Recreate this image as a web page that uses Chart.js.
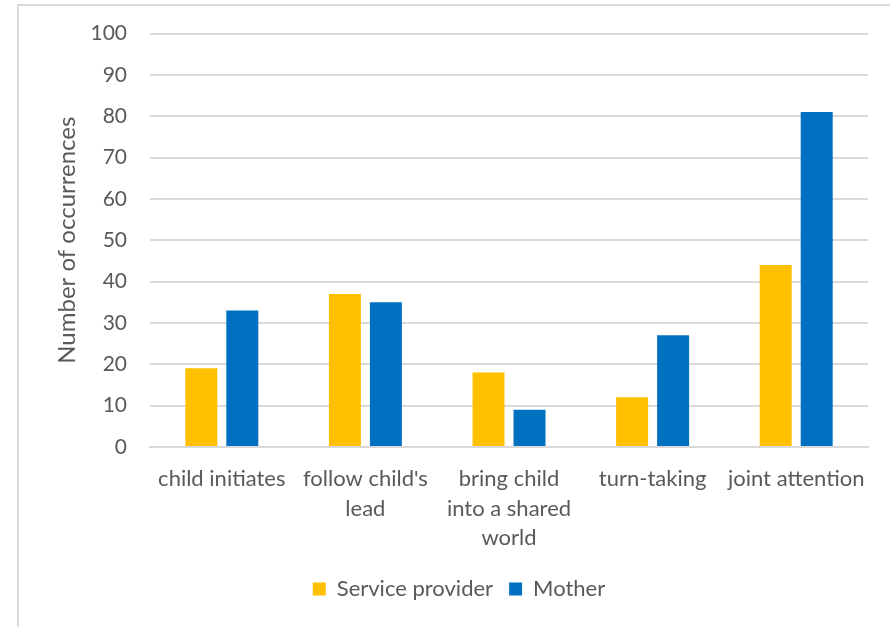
<!DOCTYPE html>
<html>
<head>
<meta charset="utf-8">
<script src="https://cdn.jsdelivr.net/npm/chart.js@4/dist/chart.umd.min.js"></script>
<style>
  html, body { margin: 0; padding: 0; background: #fff; overflow: hidden; }
  .frame { position: absolute; left: 17px; top: 4px; width: 900px; height: 700px; border: 2px solid #d9d9d9; box-sizing: border-box; }
  .wrap { position: absolute; left: 0; top: 0; width: 890px; height: 627px; }
</style>
</head>
<body>
<div class="frame"></div>
<div class="wrap"><canvas id="barChart" width="890" height="627"></canvas></div>
<script>
const categories = [
    'child initiates',
    ["follow child's", 'lead'],
    ['bring child', 'into a shared', 'world'],
    'turn-taking',
    'joint attention'
];
const serviceProvider = [19, 37, 18, 12, 44];
const mother = [33, 35, 9, 27, 81];
const yTicks = [0, 10, 20, 30, 40, 50, 60, 70, 80, 90, 100];

const textColor = '#595959';
const gridColor = '#d9d9d9';
const fontFamily = 'Lato, "Liberation Sans", sans-serif';

// centre the legend under the whole frame rather than under the canvas
const legendShift = {
    id: 'legendShift',
    afterLayout(chart) {
        chart.legend.left += 50;
    }
};

new Chart(document.getElementById('barChart'), {
    type: 'bar',
    data: {
        labels: categories,
        datasets: [{
            label: 'Service provider',
            data: serviceProvider,
            backgroundColor: '#ffc000',
            categoryPercentage: 0.571,
            barPercentage: 0.78
        }, {
            label: 'Mother',
            data: mother,
            backgroundColor: '#0070c0',
            categoryPercentage: 0.571,
            barPercentage: 0.78
        }]
    },
    options: {
        responsive: false,
        animation: false,
        layout: { padding: { top: 18, right: 22, bottom: 17, left: 0 } },
        plugins: {
            tooltip: { enabled: false },
            legend: {
                position: 'bottom',
                labels: {
                    color: textColor,
                    font: { family: fontFamily, size: 22 },
                    boxWidth: 13,
                    boxHeight: 13,
                    padding: 16
                }
            }
        },
        scales: {
            x: {
                grid: { display: false },
                border: { color: gridColor, width: 2 },
                ticks: {
                    color: textColor,
                    font: { family: fontFamily, size: 22, lineHeight: 1.32 },
                    maxRotation: 0,
                    autoSkip: false,
                    padding: 10
                }
            },
            y: {
                min: 0,
                max: 100,
                afterBuildTicks: axis => { axis.ticks = yTicks.map(v => ({ value: v })); },
                afterFit: axis => { axis.width = 150; },
                grid: { color: gridColor, lineWidth: 2, drawTicks: false },
                border: { display: false },
                ticks: {
                    color: textColor,
                    font: { family: fontFamily, size: 21, lineHeight: 1 },
                    padding: 23
                },
                title: {
                    display: true,
                    text: 'Number of occurrences',
                    color: textColor,
                    font: { family: fontFamily, size: 24 },
                    padding: { top: 53, bottom: 0 }
                }
            }
        }
    },
    plugins: [legendShift]
});
</script>
</body>
</html>
